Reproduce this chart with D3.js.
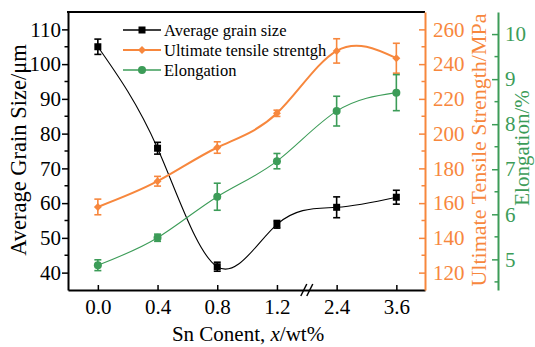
<!DOCTYPE html>
<html><head><meta charset="utf-8">
<script src="https://cdn.jsdelivr.net/npm/d3@7"></script>
<style>body{margin:0;background:#fff;}svg{display:block;}</style>
</head>
<body><svg id="c" width="535" height="347" font-family="Liberation Serif"></svg>
<script>
// ---- data ----
const categories = ["0.0","0.4","0.8","1.2","2.4","3.6"];
const grainSize = [105.0, 75.8, 41.7, 53.9, 58.8, 61.7];
const grainErr  = [2.2, 1.7, 1.3, 1.1, 3.0, 2.0];
const uts       = [157.8, 172.6, 192.0, 211.7, 247.6, 243.4];
const utsErr    = [4.5, 2.8, 3.3, 1.8, 7.0, 8.6];
const elong     = [4.87, 5.48, 6.39, 7.18, 8.29, 8.70];
const elongErr  = [0.12, 0.08, 0.30, 0.17, 0.33, 0.40];
const leftTicks = [40,50,60,70,80,90,100,110];
const utsTicks  = [120,140,160,180,200,220,240,260];
const elongTicks= [5,6,7,8,9,10];
const legendLabels = ["Average grain size","Ultimate tensile strentgh","Elongation"];

const FONT="Liberation Serif";
const BLACK="#000", ORANGE="#f7873d", GREEN="#3c9c58";
const svg = d3.select("#c");
const L=68, R=425, T=12, B=290, GX=498;

const x = d3.scaleLinear().domain([-0.5,5.48]).range([L,R]);
const yL = d3.scaleLinear().domain([35,115]).range([B,T]);
const yR = d3.scaleLinear().domain([110,270]).range([B,T]);
const yG = d3.scaleLinear().domain([4.32,10.49]).range([B,T]);

// ---- axes ----
function styleAxis(g,color,fs){
  g.attr("font-family",FONT).attr("font-size",fs);
  g.selectAll("path.domain").attr("stroke",color).attr("stroke-width",2);
  g.selectAll(".tick line").attr("stroke",color).attr("stroke-width",1.5);
  g.selectAll(".tick text").attr("fill",color).attr("font-family",FONT).attr("font-size",fs);
}
// left
const gl = svg.append("g").attr("transform",`translate(${L},0)`)
  .call(d3.axisLeft(yL).tickValues(leftTicks).tickFormat(d3.format("d")).tickSize(6).tickSizeOuter(0).tickPadding(1));
styleAxis(gl,BLACK,21);
gl.selectAll(".minor").data(d3.range(45,115,10)).enter().append("line")
  .attr("x1",0).attr("x2",-3.5).attr("y1",d=>yL(d)).attr("y2",d=>yL(d)).attr("stroke",BLACK).attr("stroke-width",1.5);

// bottom
const gb = svg.append("g").attr("transform",`translate(0,${B})`)
  .call(d3.axisBottom(x).tickValues(d3.range(categories.length)).tickFormat(i=>categories[i]).tickSize(-5).tickSizeOuter(0).tickPadding(9));
styleAxis(gb,BLACK,21);
// break marks
const bx = x(3.5);
[-3,3].forEach(o=>{
  svg.append("line").attr("x1",bx+o-3).attr("y1",B+6).attr("x2",bx+o+3).attr("y2",B-6)
    .attr("stroke",BLACK).attr("stroke-width",1.5);
});

// top border
svg.append("line").attr("x1",L-1).attr("x2",R).attr("y1",T).attr("y2",T).attr("stroke",BLACK).attr("stroke-width",2);

// right orange
const gr = svg.append("g").attr("transform",`translate(${R},0)`)
  .call(d3.axisRight(yR).tickValues(utsTicks).tickFormat(d3.format("d")).tickSize(-6).tickSizeOuter(0).tickPadding(8));
styleAxis(gr,ORANGE,21);
gr.selectAll(".minor").data(d3.range(130,270,20)).enter().append("line")
  .attr("x1",0).attr("x2",-3.5).attr("y1",d=>yR(d)).attr("y2",d=>yR(d)).attr("stroke",ORANGE).attr("stroke-width",1.5);

// right green
const gg = svg.append("g").attr("transform",`translate(${GX},0)`)
  .call(d3.axisRight(yG).tickValues(elongTicks).tickFormat(d3.format("d")).tickSize(-6).tickSizeOuter(0).tickPadding(7));
styleAxis(gg,GREEN,21);
gg.selectAll(".minor").data([4.5,5.5,6.5,7.5,8.5,9.5]).enter().append("line")
  .attr("x1",0).attr("x2",-3.5).attr("y1",d=>yG(d)).attr("y2",d=>yG(d)).attr("stroke",GREEN).attr("stroke-width",1.5);

// titles
function title(tx,ty,rot,size,color,txt){
  return svg.append("text").attr("transform",`translate(${tx},${ty}) rotate(${rot})`).attr("text-anchor","middle")
    .attr("font-family",FONT).attr("font-size",size).attr("fill",color).text(txt);
}
title(26,150,-90,22.5,BLACK,"Average Grain Size/μm");
title(486,150,-90,22,ORANGE,"Ultimate Tensile Strength/MPa");
title(529,148,-90,21,GREEN,"Elongation/%");
const xt = svg.append("text").attr("x",248).attr("y",341).attr("text-anchor","middle")
  .attr("font-family",FONT).attr("font-size",21).attr("fill",BLACK);
xt.append("tspan").text("Sn Conent, ");
xt.append("tspan").attr("font-style","italic").text("x");
xt.append("tspan").text("/wt%");

// ---- series ----
const series = [
  {vals:grainSize, err:grainErr, y:yL, color:BLACK, w:1.1, shape:"square"},
  {vals:uts, err:utsErr, y:yR, color:ORANGE, w:2, shape:"diamond"},
  {vals:elong, err:elongErr, y:yG, color:GREEN, w:1.1, shape:"circle"}
];
function marker(g,shape,color,cx,cy){
  if(shape==="square") g.append("rect").attr("x",cx-3.5).attr("y",cy-3.5).attr("width",7).attr("height",7).attr("fill",color);
  else if(shape==="circle") g.append("circle").attr("cx",cx).attr("cy",cy).attr("r",4).attr("fill",color);
  else g.append("path").attr("d",d3.symbol(d3.symbolDiamond2,40)()).attr("transform",`translate(${cx},${cy})`).attr("fill",color);
}
series.forEach(s=>{
  const line = d3.line().x((d,i)=>x(i)).y(d=>s.y(d)).curve(d3.curveNatural);
  svg.append("path").attr("d",line(s.vals)).attr("fill","none").attr("stroke",s.color).attr("stroke-width",s.w);
  const g = svg.append("g");
  s.vals.forEach((v,i)=>{
    const cx=x(i), y1=s.y(v+s.err[i]), y2=s.y(v-s.err[i]);
    g.append("line").attr("x1",cx).attr("x2",cx).attr("y1",y1).attr("y2",y2).attr("stroke",s.color).attr("stroke-width",1.6);
    [y1,y2].forEach(yy=>g.append("line").attr("x1",cx-3.5).attr("x2",cx+3.5).attr("y1",yy).attr("y2",yy).attr("stroke",s.color).attr("stroke-width",1.6));
    marker(g,s.shape,s.color,cx,s.y(v));
  });
});

// ---- legend ----
const lg = svg.append("g");
series.forEach((s,i)=>{
  const yy = 30 + i*20;
  lg.append("line").attr("x1",123).attr("x2",161).attr("y1",yy).attr("y2",yy).attr("stroke",s.color).attr("stroke-width",s.w===2?2:1.3);
  marker(lg,s.shape,s.color,142,yy);
  lg.append("text").attr("x",164).attr("y",yy+5.5).attr("font-family",FONT).attr("font-size",16.5).attr("fill",BLACK).text(legendLabels[i]);
});
</script></body></html>
